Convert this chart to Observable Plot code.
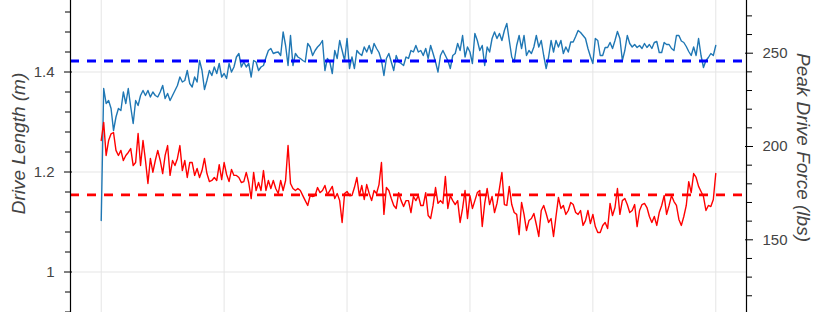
<!DOCTYPE html>
<html><head><meta charset="utf-8">
<script src="https://cdn.jsdelivr.net/npm/d3@7"></script>
<script src="https://cdn.jsdelivr.net/npm/@observablehq/plot@0.6"></script>
<style>html,body{margin:0;padding:0;background:#fff;overflow:hidden}</style>
</head><body><div id="chart"></div>
<script>
// Drive length (m), one value per stroke sample
const driveLength = [
1.103,1.367,1.337,1.343,1.327,1.283,1.310,1.327,1.323,1.360,
1.337,1.367,1.330,1.297,1.343,1.333,1.353,1.363,1.353,1.363,
1.350,1.360,1.353,1.350,1.360,1.373,1.347,1.357,1.343,1.353,
1.363,1.373,1.390,1.380,1.383,1.403,1.377,1.370,1.390,1.380,
1.423,1.403,1.365,1.383,1.403,1.393,1.410,1.397,1.417,1.390,
1.397,1.387,1.417,1.400,1.410,1.430,1.437,1.410,1.420,1.410,
1.417,1.390,1.423,1.420,1.403,1.410,1.413,1.429,1.443,1.447,
1.437,1.439,1.440,1.433,1.480,1.453,1.413,1.473,1.413,1.437,
1.430,1.427,1.423,1.420,1.457,1.450,1.433,1.443,1.450,1.455,
1.463,1.403,1.427,1.420,1.397,1.443,1.427,1.463,1.443,1.423,
1.467,1.407,1.430,1.407,1.443,1.437,1.433,1.450,1.440,1.453,
1.437,1.457,1.447,1.439,1.423,1.393,1.427,1.437,1.420,1.403,
1.433,1.420,1.417,1.413,1.430,1.427,1.443,1.440,1.453,1.440,
1.443,1.433,1.447,1.427,1.453,1.437,1.420,1.400,1.433,1.443,
1.433,1.423,1.407,1.433,1.437,1.457,1.443,1.473,1.430,1.450,
1.440,1.417,1.477,1.463,1.443,1.453,1.413,1.450,1.440,1.467,
1.480,1.467,1.477,1.463,1.483,1.497,1.463,1.430,1.420,1.453,
1.473,1.447,1.473,1.433,1.443,1.437,1.450,1.473,1.450,1.463,
1.433,1.407,1.430,1.463,1.440,1.463,1.450,1.463,1.437,1.450,
1.440,1.460,1.460,1.471,1.483,1.479,1.473,1.467,1.447,1.431,
1.417,1.467,1.463,1.433,1.433,1.449,1.449,1.459,1.447,1.463,
1.481,1.467,1.423,1.443,1.473,1.457,1.450,1.455,1.449,1.453,
1.447,1.457,1.449,1.455,1.447,1.459,1.461,1.439,1.439,1.459,
1.455,1.455,1.447,1.443,1.473,1.473,1.462,1.459,1.451,1.441,
1.433,1.450,1.433,1.467,1.433,1.409,1.423,1.429,1.437,1.433,
1.453
];
// Peak drive force (lbs), same samples
const peakForce = [
203.2,212.9,195.2,203.2,206.8,207.5,197.9,195.2,197.9,192.5,
195.2,196.8,198.9,189.8,191.4,207.0,189.8,203.2,192.5,180.2,
193.6,186.2,192.5,197.9,192.5,185.5,195.2,200.5,184.5,192.5,
189.8,193.6,200.5,187.1,192.5,183.4,191.4,191.4,184.5,188.2,
183.4,187.1,193.6,185.5,181.2,181.8,183.4,181.8,190.3,182.3,
191.4,185.0,181.2,187.7,184.5,184.5,183.4,180.7,181.2,186.1,
180.7,172.1,186.1,176.4,180.7,176.4,187.1,176.4,181.8,177.5,
181.8,177.5,174.8,181.8,176.4,181.8,200.5,180.2,177.5,176.4,
177.5,176.4,173.7,171.0,168.4,173.7,173.2,173.7,178.0,175.3,
176.4,179.1,174.2,176.4,178.6,172.1,174.8,171.0,159.3,174.8,
175.9,173.7,173.7,178.0,183.4,173.7,179.1,171.6,179.6,174.8,
171.0,176.4,174.8,179.6,191.4,163.6,178.0,176.4,172.1,168.4,
166.8,175.3,171.0,167.8,171.0,171.0,164.6,173.2,171.0,173.7,
168.4,168.4,175.3,163.0,161.4,168.4,178.0,169.5,171.0,169.5,
183.9,166.8,173.7,171.0,168.9,171.0,159.3,166.8,176.4,161.4,
173.7,166.8,171.0,175.3,176.4,157.1,169.5,177.5,168.9,173.2,
164.6,169.5,177.5,186.1,168.9,168.4,178.6,168.9,164.6,163.6,
152.8,170.0,163.6,155.0,160.3,161.4,164.1,158.2,151.8,165.7,
168.4,164.1,159.3,161.4,151.8,162.5,172.7,166.8,168.4,163.6,
165.7,170.0,168.9,164.6,163.6,165.7,157.7,160.3,165.7,158.7,
163.6,157.1,153.9,153.9,157.7,159.3,156.0,169.5,163.0,167.3,
177.5,163.6,171.0,172.1,168.9,164.6,165.7,168.9,157.1,165.7,
168.9,169.5,167.3,162.5,159.3,162.5,157.7,164.6,168.4,173.7,
163.6,168.4,173.7,170.5,168.4,160.9,157.7,162.5,168.4,181.2,
175.3,185.5,183.4,178.6,175.9,173.2,165.7,168.4,167.8,171.6,
185.5
];
const meanDriveLength = 1.422;
const meanPeakForce = 174.1;

const lengthTicks = [1.0, 1.2, 1.4];
const lengthMinorTicks = [0.92,0.96,1.04,1.08,1.12,1.16,1.24,1.28,1.32,1.36,1.44,1.48,1.52];
const forceTicks = [150, 200, 250];
const forceMinorTicks = [120,130,140,160,170,180,190,210,220,230,240,260,270];
const sampleGridTicks = [0, 50, 100, 150, 200, 250];

const lengthDomain = [0.919, 1.543];
const forceDomain = [111.04, 278.24];

const toLeft = d3.scaleLinear().domain(forceDomain).range(lengthDomain);
const n = driveLength.length;
const xDomain = [-0.05 * (n - 1), 1.05 * (n - 1)];
const rows = driveLength.map((v, i) => ({i, length: v, force: toLeft(peakForce[i])}));

const font = "'Liberation Sans', Arial, Helvetica, sans-serif";
const labelColor = "#444";
const noText = () => "";

const chart = Plot.plot({
  width: 820,
  height: 312,
  marginLeft: 70,
  marginRight: 74,
  marginTop: 0,
  marginBottom: 0,
  style: {fontFamily: font, background: "#fff", overflow: "visible"},
  x: {domain: xDomain, axis: null},
  y: {domain: lengthDomain, axis: null},
  marks: [
    Plot.gridX(sampleGridTicks, {stroke: "#e5e5e5", strokeOpacity: 1, strokeWidth: 1}),
    Plot.gridY(lengthTicks, {stroke: "#e5e5e5", strokeOpacity: 1, strokeWidth: 1}),
    Plot.lineY(rows, {x: "i", y: "length", stroke: "#1f77b4", strokeWidth: 1.4}),
    Plot.lineY(rows, {x: "i", y: "force", stroke: "#ff0000", strokeWidth: 1.4}),
    Plot.ruleY([meanDriveLength], {stroke: "#0000ff", strokeWidth: 2.8, strokeDasharray: "9,8"}),
    Plot.ruleY([toLeft(meanPeakForce)], {stroke: "#ff0000", strokeWidth: 2.8, strokeDasharray: "9,8"}),
    // left axis
    Plot.ruleX([xDomain[0]], {stroke: "#000", strokeWidth: 1.2}),
    Plot.axisY(lengthMinorTicks, {anchor: "left", tickSize: 5, stroke: "#000", tickFormat: noText, label: null}),
    Plot.axisY(lengthTicks, {anchor: "left", tickSize: 8, dx: 2, stroke: "#000", tickFormat: noText, label: null}),
    Plot.axisY(lengthTicks, {anchor: "left", tickSize: 0, tickPadding: 16, fontSize: 15, color: labelColor, label: null,
      tickFormat: d => d === 1 ? "1" : d.toFixed(1)}),
    Plot.text(["Drive Length (m)"], {frameAnchor: "left", textAnchor: "middle", lineAnchor: "middle",
      rotate: -90, dx: -52, dy: -13, fontSize: 19, fontStyle: "italic", fill: labelColor}),
    // right axis
    Plot.ruleX([xDomain[1]], {stroke: "#000", strokeWidth: 1.2}),
    Plot.axisY(forceMinorTicks.map(toLeft), {anchor: "right", tickSize: 5, stroke: "#000", tickFormat: noText, label: null}),
    Plot.axisY(forceTicks.map(toLeft), {anchor: "right", tickSize: 8, dx: -2, stroke: "#000", tickFormat: noText, label: null}),
    Plot.axisY(forceTicks.map(toLeft), {anchor: "right", tickSize: 0, tickPadding: 16, fontSize: 15, color: labelColor, label: null,
      tickFormat: d => String(Math.round(toLeft.invert(d)))}),
    Plot.text(["Peak Drive Force (lbs)"], {frameAnchor: "right", textAnchor: "middle", lineAnchor: "middle",
      rotate: 90, dx: 57, dy: -9, fontSize: 19, fontStyle: "italic", fill: labelColor})
  ]
});
document.getElementById("chart").appendChild(chart);
</script>
</body></html>
